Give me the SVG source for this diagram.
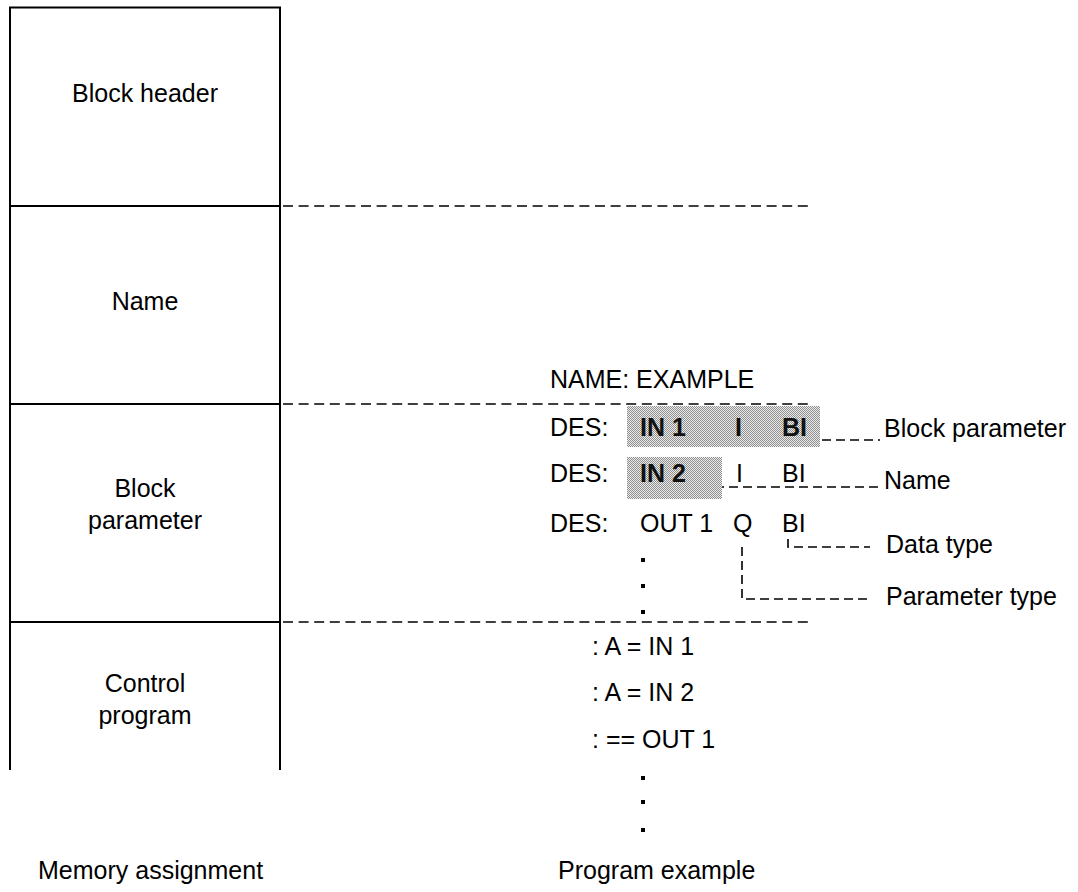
<svg xmlns="http://www.w3.org/2000/svg" width="1078" height="892" viewBox="0 0 1078 892">
<style>
text{font-family:"Liberation Sans",Arial,sans-serif;font-size:25px;fill:#000}
.c{text-anchor:middle}
.b{font-weight:bold;fill:#111}
.solid{stroke:#000;stroke-width:2;fill:none}
.dash{stroke:#000;stroke-width:1.6;fill:none;stroke-dasharray:10 5.6}
.dash2{stroke:#000;stroke-width:1.6;fill:none;stroke-dasharray:9 5}
</style>
<defs>
<pattern id="ht" width="2" height="2" patternUnits="userSpaceOnUse">
<rect width="2" height="2" fill="#ececec"/>
<rect width="1" height="1" fill="#8e8e8e"/>
<rect x="1" y="1" width="1" height="1" fill="#8e8e8e"/>
</pattern>
</defs>
<rect width="1078" height="892" fill="#fff"/>
<g id="memory-block">
<path class="solid" d="M10,770 V7.5 H280 V770"/>
<path class="solid" d="M10,206 H280 M10,404 H280 M10,622 H280"/>
<text class="c" x="145" y="102">Block header</text>
<text class="c" x="145" y="310">Name</text>
<text class="c" x="145" y="497">Block</text>
<text class="c" x="145" y="529">parameter</text>
<text class="c" x="145" y="692">Control</text>
<text class="c" x="145" y="724">program</text>
<text x="38" y="879">Memory assignment</text>
</g>
<g id="connectors">
<path class="dash" d="M283,206 H811 M283,404 H811 M283,622 H811"/>
<path class="dash2" d="M822,440 H880"/>
<path class="dash2" d="M715,487 H880"/>
<path class="dash2" d="M788,539 V547 H870"/>
<path class="dash2" d="M742,547 V599 H870"/>
</g>
<g id="program-example">
<rect x="627" y="406" width="193" height="41" fill="url(#ht)"/>
<rect x="627" y="457" width="95" height="42" fill="url(#ht)"/>
<text x="550" y="388">NAME: EXAMPLE</text>
<text x="550" y="436">DES:</text>
<text class="b" x="640" y="436">IN 1</text>
<text class="b" x="735" y="436">I</text>
<text class="b" x="782" y="436">BI</text>
<text x="550" y="482">DES:</text>
<text class="b" x="640" y="482">IN 2</text>
<text x="736" y="482">I</text>
<text x="782" y="482">BI</text>
<text x="550" y="532">DES:</text>
<text x="640" y="532">OUT 1</text>
<text x="733" y="532">Q</text>
<text x="782" y="532">BI</text>
<rect x="641" y="558" width="4" height="4"/>
<rect x="641" y="584" width="4" height="4"/>
<rect x="641" y="610" width="4" height="4"/>
<text x="592" y="655">: A = IN 1</text>
<text x="592" y="701">: A = IN 2</text>
<text x="592" y="748">: == OUT 1</text>
<rect x="641" y="776" width="4" height="4"/>
<rect x="641" y="800" width="4" height="4"/>
<rect x="641" y="828" width="4" height="4"/>
<text x="558" y="879">Program example</text>
</g>
<g id="labels">
<text x="884" y="437">Block parameter</text>
<text x="884" y="489">Name</text>
<text x="886" y="553">Data type</text>
<text x="886" y="605">Parameter type</text>
</g>
</svg>
